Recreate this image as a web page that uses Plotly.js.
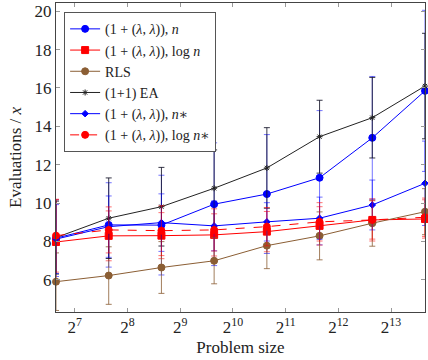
<!DOCTYPE html>
<html>
<head>
<meta charset="utf-8">
<script src="https://cdn.plot.ly/plotly-3.0.1.min.js"></script>
<style>
  html, body { margin: 0; padding: 0; background: #fff; }
  #graph { width: 428px; height: 360px; }
</style>
</head>
<body>
<div id="graph"></div>
<script>
// Problem sizes
const sizes = [100, 200, 400, 800, 1600, 3200, 6400, 12800];

// (1+(λ,λ)), n
const lamN = [8.17, 8.86, 8.85, 9.94, 10.47, 11.32, 13.4, 15.85];
const lamNErr = [2.0, 2.2, 2.6, 3.2, 3.1, 3.5, 3.2, 4.2];
// (1+(λ,λ)), log n
const lamLog = [7.97, 8.29, 8.3, 8.34, 8.51, 8.81, 9.12, 9.17];
const lamLogErr = [2.2, 1.3, 1.2, 1.1, 1.05, 1.0, 1.1, 1.0];
// RLS
const rls = [5.9, 6.22, 6.64, 6.99, 7.78, 8.29, 8.95, 9.55];
const rlsErr = [1.5, 1.5, 1.35, 1.2, 1.2, 1.25, 1.2, 1.2];
// (1+1) EA
const ea = [8.2, 9.21, 9.81, 10.77, 11.83, 13.46, 14.45, 16.1];
const eaErr = [1.9, 2.1, 2.05, 2.0, 2.1, 1.9, 2.1, 2.75];
// (1+(λ,λ)), n*
const lamNStar = [8.12, 8.77, 8.98, 8.81, 9.02, 9.21, 9.9, 11.03];
const lamNStarErr = [1.8, 1.6, 1.5, 1.3, 1.0, 1.1, 1.3, 2.2];
// (1+(λ,λ)), log n*
const lamLogStar = [8.3, 8.6, 8.56, 8.6, 8.77, 9.02, 9.12, 9.26];
const lamLogStarErr = [1.9, 1.2, 1.3, 1.1, 1.0, 1.0, 1.0, 1.0];

const tickVals = [128, 256, 512, 1024, 2048, 4096, 8192];
const tickText = ['2<sup>7</sup>', '2<sup>8</sup>', '2<sup>9</sup>', '2<sup>10</sup>',
                  '2<sup>11</sup>', '2<sup>12</sup>', '2<sup>13</sup>'];

const FONT = 'Liberation Serif, DejaVu Serif, serif';

function series(name, y, err, color, errColor, symbol, size, dash) {
    return {
        x: sizes,
        y: y,
        name: name,
        type: 'scatter',
        mode: 'lines+markers',
        cliponaxis: false,
        line: { color: color, width: 1, dash: dash || 'solid' },
        marker: { color: color, symbol: symbol, size: size, line: { color: color, width: 1 } },
        error_y: { type: 'data', array: err, visible: true, color: errColor, thickness: 1, width: 3 }
    };
}

var traces = [
    series('(1 + (<i>λ</i>, <i>λ</i>)), <i>n</i>', lamN, lamNErr, '#0000ff', 'rgba(0,0,255,0.55)', 'circle', 7),
    series('(1 + (<i>λ</i>, <i>λ</i>)), log <i>n</i>', lamLog, lamLogErr, '#ff0000', 'rgba(255,0,0,0.55)', 'square', 7),
    series('RLS', rls, rlsErr, '#8b5e34', 'rgba(139,94,52,0.8)', 'circle', 7),
    series('(1+1) EA', ea, eaErr, '#222222', 'rgba(20,20,40,0.85)', 'asterisk-open', 5),
    series('(1 + (<i>λ</i>, <i>λ</i>)), <i>n</i>∗', lamNStar, lamNStarErr, '#0000ff', 'rgba(0,0,255,0.55)', 'diamond', 5),
    series('(1 + (<i>λ</i>, <i>λ</i>)), log <i>n</i>∗', lamLogStar, lamLogStarErr, '#ff0000', 'rgba(255,0,0,0.55)', 'circle', 7, 'dash')
];

var axisCommon = {
    showgrid: false,
    zeroline: false,
    showline: true,
    linecolor: '#444',
    linewidth: 1,
    mirror: 'ticks',
    ticks: 'inside',
    ticklen: 4,
    tickcolor: '#999',
    tickfont: { family: FONT, size: 17, color: '#222' }
};

var layout = {
    width: 428,
    height: 360,
    margin: { l: 56, r: 3, t: 3, b: 48 },
    paper_bgcolor: '#fff',
    plot_bgcolor: '#fff',
    font: { family: FONT, color: '#222' },
    showlegend: true,
    legend: {
        x: 0.022, y: 0.97, xanchor: 'left', yanchor: 'top',
        bgcolor: '#fff', bordercolor: '#555', borderwidth: 1,
        font: { family: FONT, size: 14, color: '#222' },
        tracegroupgap: 0
    },
    xaxis: Object.assign({}, axisCommon, {
        type: 'log',
        range: [Math.log10(100), Math.log10(12800)],
        tickvals: tickVals,
        ticktext: tickText,
        title: { text: 'Problem size', font: { family: FONT, size: 17, color: '#222' }, standoff: 4 }
    }),
    yaxis: Object.assign({}, axisCommon, {
        range: [4.32, 20.43],
        tickvals: [6, 8, 10, 12, 14, 16, 18, 20],
        title: { text: 'Evaluations / <i>x</i>', font: { family: FONT, size: 17, color: '#222' }, standoff: 8 }
    })
};

Plotly.newPlot('graph', traces, layout, { staticPlot: true });
</script>
</body>
</html>
